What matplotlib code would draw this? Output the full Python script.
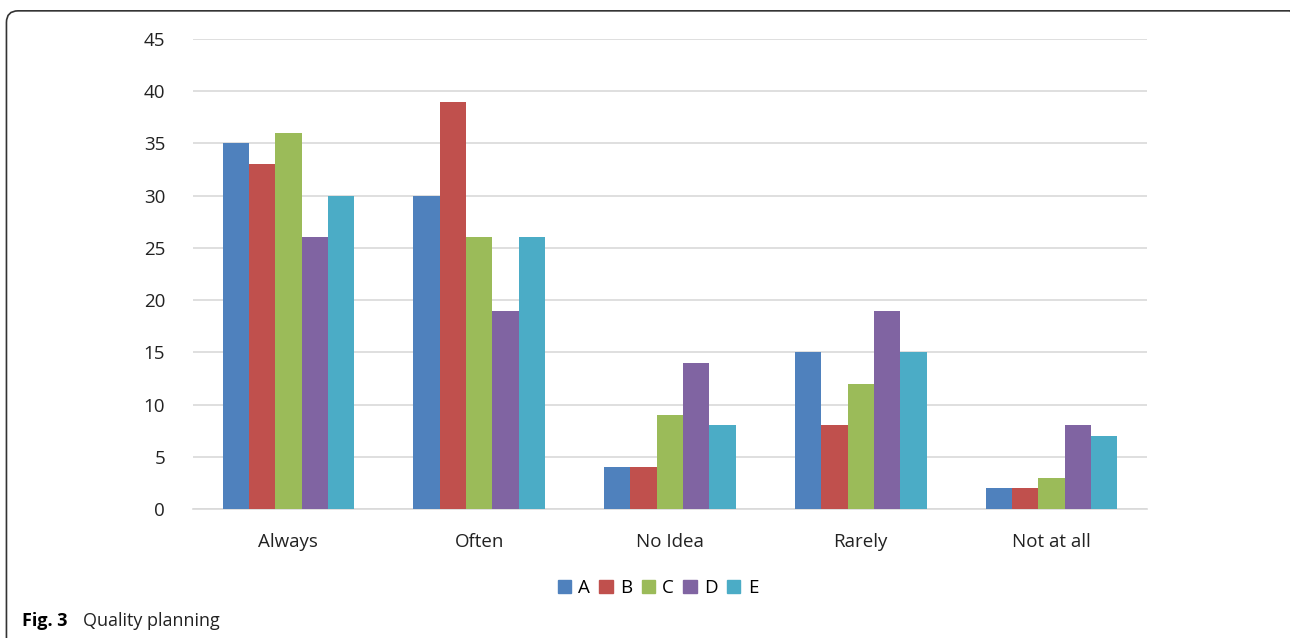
import matplotlib.pyplot as plt
import numpy as np
from matplotlib.patches import FancyBboxPatch, Patch

# survey answers for quality planning, five groups per answer
categories = ['Always', 'Often', 'No Idea', 'Rarely', 'Not at all']
series_names = ['A', 'B', 'C', 'D', 'E']
a_vals = [35, 30, 4, 15, 2]
b_vals = [33, 39, 4, 8, 2]
c_vals = [36, 26, 9, 12, 3]
d_vals = [26, 19, 14, 19, 8]
e_vals = [30, 26, 8, 15, 7]
colors = ['#4F81BD', '#C0504D', '#9BBB59', '#8064A2', '#4BACC6']
y_ticks = [0, 5, 10, 15, 20, 25, 30, 35, 40, 45]

plt.rcParams['font.family'] = ['Open Sans', 'DejaVu Sans']

fig = plt.figure(figsize=(12.9, 6.38), dpi=100)
ax = fig.add_axes([0.1496, 0.2022, 0.7395, 0.7367])

# rounded frame around the figure, open at the bottom
frame = FancyBboxPatch((0.005, -0.2), 1.004, 1.183,
                       boxstyle='round,pad=0,rounding_size=0.009',
                       transform=fig.transFigure, fill=False,
                       edgecolor='#333333', linewidth=1.2,
                       mutation_aspect=1290 / 638)
fig.patches.append(frame)

x = np.arange(len(categories))
width = 0.138
all_vals = [a_vals, b_vals, c_vals, d_vals, e_vals]
for i, vals in enumerate(all_vals):
    ax.bar(x + (i - 2) * width, vals, width, color=colors[i],
           label=series_names[i], zorder=3)

ax.set_xlim(-0.5, len(categories) - 0.5)
ax.set_ylim(0, 45)
ax.set_yticks(y_ticks)
ax.set_xticks(x)
ax.set_xticklabels(categories)
ax.tick_params(axis='both', length=0, labelsize=13.5, colors='#222222')
ax.tick_params(axis='y', pad=20)
ax.tick_params(axis='x', pad=17)
ax.grid(axis='y', color='#D9D9D9', linewidth=1.2, zorder=0)
for s in ['top', 'right', 'left']:
    ax.spines[s].set_visible(False)
ax.spines['bottom'].set_color('#D9D9D9')
ax.spines['bottom'].set_linewidth(1.2)

handles = [Patch(color=c, label=n) for c, n in zip(colors, series_names)]
fig.legend(handles=handles, loc='center', bbox_to_anchor=(0.51, 0.078),
           ncol=5, frameon=False, fontsize=13.5, handlelength=0.7,
           handleheight=0.7, handletextpad=0.4, columnspacing=0.5)

fig.text(0.017, 0.026, 'Fig. 3', fontsize=13, fontweight='bold', va='center')
fig.text(0.064, 0.026, 'Quality planning', fontsize=13, va='center', color='#222222')

fig.savefig('out.png', dpi=100)
